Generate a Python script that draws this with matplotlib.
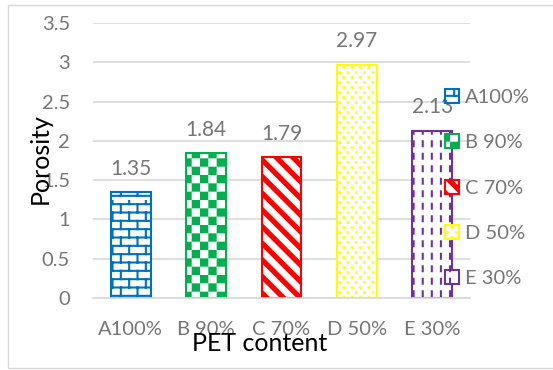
import warnings
warnings.filterwarnings('ignore')
import numpy as np
import matplotlib
matplotlib.use('Agg')
import matplotlib.pyplot as plt
import matplotlib.hatch as mhatch
from matplotlib.path import Path
from matplotlib.patches import Rectangle

# ---------------- data ----------------
categories = ['A100%', 'B 90%', 'C 70%', 'D 50%', 'E 30%']
porosity = [1.35, 1.84, 1.79, 2.97, 2.13]
y_ticks = [0, 0.5, 1, 1.5, 2, 2.5, 3, 3.5]
y_tick_labels = ['0', '0.5', '1', '1.5', '2', '2.5', '3', '3.5']
x_title = 'PET content'
y_title = 'Porosity'

# ---------------- styles ----------------
colors = ['#0070C0', '#00B050', '#FF0000', '#FFFF00', '#7030A0']
hatches = ['b', 'k', 'd', 'p', 'v']
DPI = 100
W, H = 553, 370
HLW = 1.5
LWU = HLW / 72.0  # hatch line width in hatch-unit coordinates

plt.rcParams['hatch.linewidth'] = HLW
plt.rcParams['font.family'] = ['Lato', 'DejaVu Sans']

MOVE, LINE, CLOSE = Path.MOVETO, Path.LINETO, Path.CLOSEPOLY


def _square(cx, cy, h):
    v = [(cx - h, cy - h), (cx + h, cy - h), (cx + h, cy + h), (cx - h, cy + h), (cx - h, cy - h)]
    return (v, [MOVE, LINE, LINE, LINE, CLOSE])


def _line(x0, y0, x1, y1):
    return ([(x0, y0), (x1, y1)], [MOVE, LINE])


class _CustomHatch(mhatch.HatchPatternBase):
    char = None

    def __init__(self, hatch, density):
        self.segs = self.build() if (hatch and self.char in hatch) else []
        self.num_vertices = sum(len(v) for v, c in self.segs)

    def build(self):
        return []

    def set_vertices_and_codes(self, vertices, codes):
        i = 0
        for v, c in self.segs:
            n = len(v)
            vertices[i:i + n] = v
            codes[i:i + n] = c
            i += n


class BrickHatch(_CustomHatch):
    char = 'b'

    def build(self):
        rows, cols = 12, 6
        segs = []
        for r in range(rows):
            y = (r + 0.5) / rows
            segs.append(_line(0, y, 1, y))
            off = 0.5 * (r % 2) / cols
            for c in range(cols):
                x = c / cols + off + 0.25 / cols
                segs.append(_line(x, y, x, y + 1.0 / rows))
        return segs


class CheckerHatch(_CustomHatch):
    char = 'k'

    def build(self):
        n = 12
        h = 0.5 / n - LWU / 2
        segs = []
        for i in range(n):
            for j in range(n):
                if (i + j) % 2 == 0:
                    segs.append(_square((i + 0.5) / n, (j + 0.5) / n, h))
        return segs


class StripeHatch(_CustomHatch):
    char = 'd'

    def build(self):
        n = 6
        w = 0.45 / n - LWU * np.sqrt(2)
        segs = []
        for k in range(-1, 2 * n + 1):
            c1 = k / n
            c2 = c1 + w
            v = [(c1 + 1, -1), (c2 + 1, -1), (c2 - 2, 2), (c1 - 2, 2), (c1 + 1, -1)]
            segs.append((v, [MOVE, LINE, LINE, LINE, CLOSE]))
        return segs


class DotHatch(_CustomHatch):
    char = 'p'

    def build(self):
        rows, cols = 20, 12
        segs = []
        for r in range(rows):
            for c in range(cols):
                x = (c + 0.25 + 0.5 * (r % 2)) / cols
                y = (r + 0.5) / rows
                segs.append(_square(x, y, 0.003))
        return segs


class DashHatch(_CustomHatch):
    char = 'v'

    def build(self):
        cols, per = 11, 8
        d = 0.07 - LWU
        segs = []
        for c in range(cols):
            x = (c + 0.5) / cols
            for k in range(per):
                y0 = k / per + (1.0 / per - d) / 2
                segs.append(_line(x, y0, x, y0 + d))
        return segs


mhatch._hatch_types.extend([BrickHatch, CheckerHatch, StripeHatch, DotHatch, DashHatch])

# ---------------- figure ----------------
fig = plt.figure(figsize=(W / DPI, H / DPI), dpi=DPI)
ax = fig.add_axes([93 / W, 1 - 298 / H, (470 - 93) / W, (298 - 23) / H])

x = np.arange(len(categories))
for i, (cat, val) in enumerate(zip(categories, porosity)):
    ax.bar(x[i], val, width=0.53, color='white', edgecolor=colors[i],
           hatch=hatches[i], linewidth=1.5, label=cat, zorder=2)
    ax.annotate(f'{val:.2f}', xy=(x[i], val), xytext=(0, 12.5), textcoords='offset points',
                ha='center', va='baseline', fontsize=15, color='#767676', zorder=1)

ax.set_xlim(-0.5, len(categories) - 0.5)
ax.set_ylim(0, 3.5)
ax.set_yticks(y_ticks)
ax.set_yticklabels(y_tick_labels)
ax.set_xticks(x)
ax.set_xticklabels(categories)
ax.tick_params(axis='both', length=0, labelsize=14.5, labelcolor='#767676')
ax.tick_params(axis='y', pad=16.5)
ax.tick_params(axis='x', pad=16.5)
ax.grid(axis='y', color='#D9D9D9', linewidth=1.2, zorder=0)
ax.set_axisbelow(True)
for s in ['left', 'right', 'top']:
    ax.spines[s].set_visible(False)
ax.spines['bottom'].set_color('#D9D9D9')
ax.spines['bottom'].set_linewidth(1.2)

fig.text(48 / W, 1 - 159 / H, y_title, rotation=90, ha='center', va='baseline',
         rotation_mode='anchor', fontsize=18, color='black')
fig.text(260 / W, 1 - 351 / H, x_title, ha='center', va='baseline', fontsize=18, color='black')

leg = ax.legend(loc='upper left', bbox_to_anchor=(445 / W, 1 - 89 / H),
                bbox_transform=fig.transFigure, frameon=False, fontsize=14.5,
                handlelength=0.7, handleheight=0.7, handletextpad=0.3,
                labelspacing=1.4, borderpad=0, borderaxespad=0)
for t in leg.get_texts():
    t.set_color('#767676')

fig.patches.append(Rectangle((8 / W, 1 - 368 / H), 1.2, (368 - 5) / H, transform=fig.transFigure,
                             fill=False, edgecolor='#D9D9D9', linewidth=1.0))

fig.savefig('out.png', dpi=DPI)
